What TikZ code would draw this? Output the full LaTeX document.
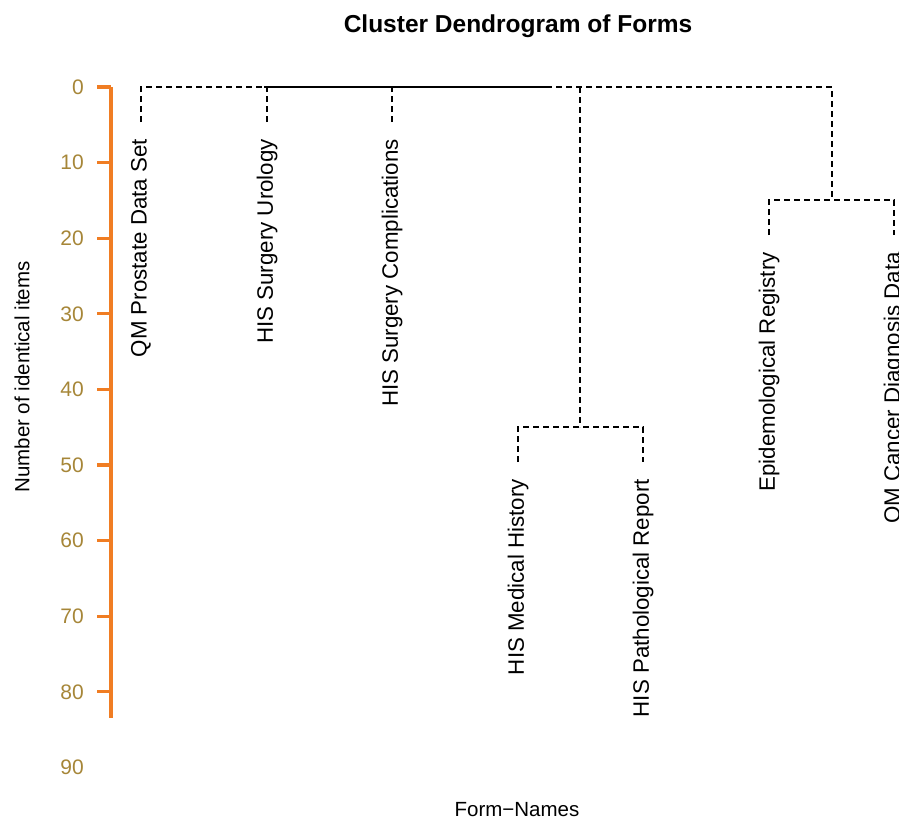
\documentclass[tikz,border=0pt]{standalone}
\usepackage{fontspec}
\setmainfont{Liberation Sans}
\definecolor{axisorange}{RGB}{240,125,35}
\definecolor{ticktext}{RGB}{166,134,56}
\begin{document}
\begin{tikzpicture}[x=1pt,y=-1pt,
  dend/.style={line width=2.4pt,dash pattern=on 6pt off 4pt},
  solidpart/.style={line width=2.4pt},
  leaflabel/.style={rotate=90,anchor=east,inner sep=0pt,font=\fontsize{22.3}{26}\selectfont},
  ticklabel/.style={anchor=east,inner sep=0pt,text=ticktext,font=\fontsize{21}{24}\selectfont},
  axisline/.style={draw=axisorange,line width=3.2pt},
  titlestyle/.style={inner sep=0pt,font=\fontsize{24.5}{28}\selectfont\bfseries},
  axtitle/.style={inner sep=0pt,font=\fontsize{20.5}{24}\selectfont}]
\useasboundingbox (0,0) rectangle (899,820);
% title and axis titles
\node[titlestyle] (title) at (518,26) {Cluster Dendrogram of Forms};
\node[axtitle] (xlab) at (517,810) {Form−Names};
\node[axtitle,rotate=90] (ylab) at (22,377) {Number of identical items};
% y axis
\coordinate (atop) at (111,87);
\coordinate (abot) at (111,718);
\draw[axisline] (atop) -- (abot);
\foreach \v [count=\i] in {0,10,20,30,40,50,60,70,80}{
  \coordinate (t\i) at (111,{87+7.56*\v});
  \coordinate (tl\i) at (97,{87+7.56*\v});
  \draw[axisline] (tl\i) -- (t\i);
}
\foreach \v [count=\i] in {0,10,20,30,40,50,60,70,80,90}{
  \node[ticklabel] (n\i) at (84,{87+7.56*\v}) {\v};
}
% leaves
\coordinate (l1) at (141,122);
\coordinate (l2) at (267,122);
\coordinate (l3) at (392,122);
\coordinate (l4) at (518,462);
\coordinate (l5) at (643,462);
\coordinate (l6) at (769,235);
\coordinate (l7) at (894,235);
\node[leaflabel] (L1) at (141,139) {QM Prostate Data Set};
\node[leaflabel] (L2) at (267,139) {HIS Surgery Urology};
\node[leaflabel] (L3) at (392,139) {HIS Surgery Complications};
\node[leaflabel] (L4) at (518,479) {HIS Medical History};
\node[leaflabel] (L5) at (643,479) {HIS Pathological Report};
\node[leaflabel] (L6) at (769,252) {Epidemological Registry};
\node[leaflabel] (L7) at (894,252) {QM Cancer Diagnosis Data};
% merge points
\coordinate (m45) at (580,427);
\coordinate (m67) at (832,200);
\coordinate (top45) at (580,87);
\coordinate (top67) at (832,87);
\coordinate (s1) at (264,87);
\coordinate (s2) at (548,87);
% dendrogram
\draw[dend] (l1) |- (top67) -- (m67);
\draw[dend] (l2) -- (l2 |- atop);
\draw[dend] (l3) -- (l3 |- atop);
\draw[solidpart] (s1) -- (s2);
\draw[dend] (top45) -- (m45);
\draw[dend] (l4) |- (m45) -| (l5);
\draw[dend] (l6) |- (m67) -| (l7);
\end{tikzpicture}
\end{document}
